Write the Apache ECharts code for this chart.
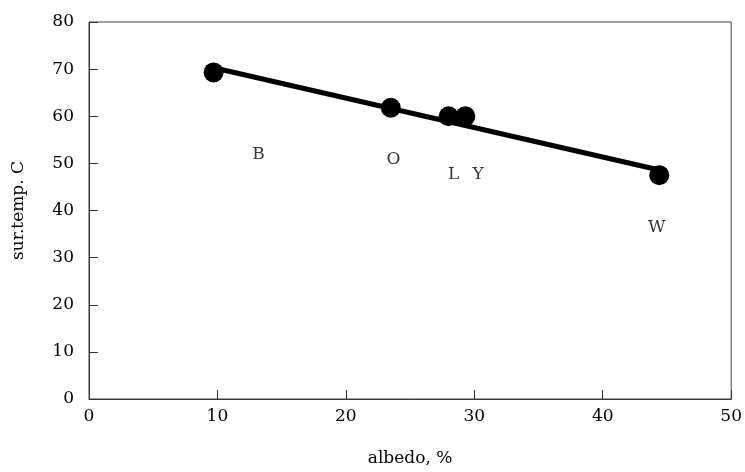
<!DOCTYPE html>
<html><head><meta charset="utf-8">
<script src="https://cdn.jsdelivr.net/npm/echarts@6/dist/echarts.min.js"></script>
<style>html,body{margin:0;padding:0;background:#fff}#c{width:745px;height:472px}</style>
</head><body><div id="c"></div>
<script>
const albedo = [9.7, 23.5, 28.0, 29.3, 44.4];
const surTemp = [69.3, 61.8, 60.0, 60.0, 47.5];
const fitX = [9.7, 44.4];
const fitY = [70.3, 48.6];
const labelNames = ['B', 'O', 'L', 'Y', 'W'];
const labelX = [13.2, 23.7, 28.4, 30.3, 44.2];
const labelY = [51.9, 50.8, 47.6, 47.6, 36.4];
const font = '"DejaVu Serif", "Liberation Serif", serif';

const chart = echarts.init(document.getElementById('c'));
chart.setOption({
  animation: false,
  grid: { left: 89, right: 9, top: 22, bottom: 72, show: true, borderColor: '#444', borderWidth: 1 },
  xAxis: {
    type: 'value', min: 0, max: 50, interval: 10,
    name: 'albedo, %', nameLocation: 'middle', nameGap: 51,
    nameTextStyle: { fontFamily: font, fontSize: 17, color: '#000' },
    axisLine: { lineStyle: { color: '#333', width: 1 } },
    axisTick: { inside: true, length: 9, lineStyle: { color: '#333' } },
    axisLabel: { fontFamily: font, fontSize: 17, color: '#000', margin: 9 },
    splitLine: { show: false }
  },
  yAxis: {
    type: 'value', min: 0, max: 80, interval: 10,
    name: 'sur.temp. C', nameLocation: 'middle', nameGap: 62, nameRotate: 90,
    nameTextStyle: { fontFamily: font, fontSize: 17, color: '#000' },
    axisLine: { lineStyle: { color: '#333', width: 1 } },
    axisTick: { inside: true, length: 9, lineStyle: { color: '#333' } },
    axisLabel: { fontFamily: font, fontSize: 17, color: '#000', margin: 15 },
    splitLine: { show: false }
  },
  series: [
    {
      type: 'line', data: fitX.map((x, i) => [x, fitY[i]]),
      showSymbol: false, lineStyle: { color: '#000', width: 5 }, z: 2
    },
    {
      type: 'scatter', data: albedo.map((x, i) => [x, surTemp[i]]),
      symbol: 'circle', symbolSize: 20, itemStyle: { color: '#000', opacity: 1 }, z: 3
    },
    {
      type: 'scatter', data: labelX.map((x, i) => [x, labelY[i], labelNames[i]]),
      symbolSize: 0, silent: true,
      label: { show: true, position: 'inside', formatter: p => p.value[2],
        fontFamily: font, fontSize: 17, color: '#000' }
    }
  ]
});
</script></body></html>
